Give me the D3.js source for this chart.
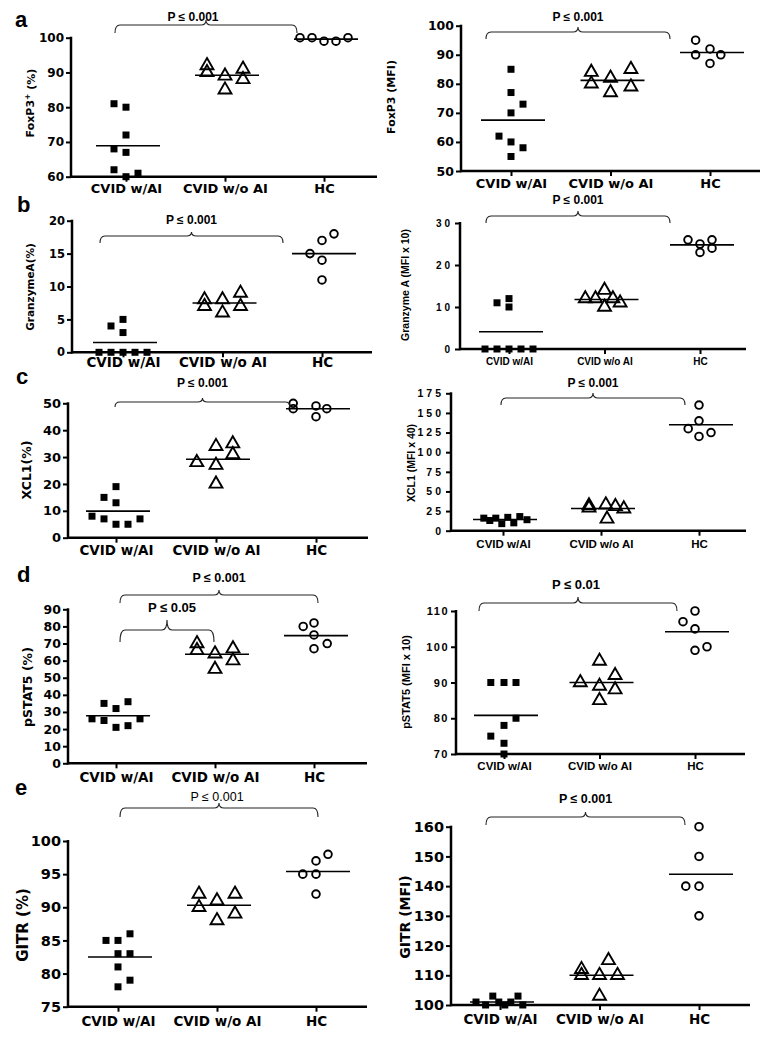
<!DOCTYPE html>
<html>
<head>
<meta charset="utf-8">
<script src="https://cdn.jsdelivr.net/npm/d3@7.9.0/dist/d3.min.js"></script>
<style>
  body { margin: 0; background: #fff; }
  svg { display: block; }
</style>
</head>
<body>
<svg id="fig" width="766" height="1044"></svg>
<script>
const groups = ['CVID w/AI', 'CVID w/o AI', 'HC'];

// a: FoxP3
const foxp3PctTicks = [60, 70, 80, 90, 100];
const foxp3Pct = [[81, 80, 72, 68, 67, 62, 60, 61], [92, 90, 89, 85, 91, 88], [100, 100, 99, 99, 100]];
const foxp3PctSlot = [[-1, 0, 0, -1, 0, -1, 0, 1], [-1.5, -1.5, 0, 0, 1.5, 1.5], [-2, -1, 0, 1, 2]];
const foxp3PctMean = [68.9, 89.2, 99.6];

const foxp3MfiTicks = [50, 60, 70, 80, 90, 100];
const foxp3Mfi = [[85, 77, 73, 70, 62, 60, 58, 55], [84, 80, 82, 77, 85, 79], [95, 92, 90, 90, 87]];
const foxp3MfiSlot = [[0, 0, 1, 0, -1, 0, 1, 0], [-1.6, -1.6, 0, 0, 1.7, 1.7], [-1.2, 0, -1.2, 0.9, 0]];
const foxp3MfiMean = [67.5, 81.2, 90.8];

// b: Granzyme A
const gzmPctTicks = [0, 5, 10, 15, 20];
const gzmPct = [[0, 0, 0, 0, 0, 4, 5, 3], [8, 7, 8, 6, 9, 7], [15, 17, 18, 14, 11]];
const gzmPctSlot = [[-2, -1, 0, 1, 2, -1, 0, 0], [-1.5, -1.5, 0, 0, 1.5, 1.5], [-1, 0, 1, 0, 0]];
const gzmPctMean = [1.5, 7.5, 15];

const gzmMfiTicks = [0, 10, 20, 30];
const gzmMfi = [[0, 0, 0, 0, 0, 11, 12, 10], [12, 12, 14, 10, 12, 11], [26, 26, 25, 23, 24]];
const gzmMfiSlot = [[-2, -1, 0, 1, 2, -1, 0, 0], [-1.6, -0.75, 0, 0, 0.7, 1.3], [-1, 1, 0, 0, 1]];
const gzmMfiMean = [4.1, 11.8, 24.8];

// c: XCL1
const xclPctTicks = [0, 10, 20, 30, 40, 50];
const xclPct = [[8, 7, 5, 5, 7, 15, 13, 19], [28, 34, 27, 20, 35, 31], [50, 48, 49, 45, 48]];
const xclPctSlot = [[-2, -1, 0, 1, 2, -1, 0, 0], [-1.6, 0, 0, 0, 1.4, 1.4], [-1.9, -1.9, 0, 0, 0.9]];
const xclPctMean = [9.9, 29.2, 48];

const xclMfiTicks = [0, 25, 50, 75, 100, 125, 150, 175];
const xclMfi = [[16, 13, 16, 9, 17, 10, 18, 14], [32, 29, 33, 31, 28, 15], [160, 140, 130, 125, 120]];
const xclMfiSlot = [[-1.6, -1.1, -0.6, -0.1, 0.4, 0.9, 1.4, 2], [-1, -1, 0.4, 1.2, 1.9, 0.5], [0, 0, -0.9, 1, 0]];
const xclMfiMean = [14.3, 28.3, 135];

// d: pSTAT5
const pstPctTicks = [0, 10, 20, 30, 40, 50, 60, 70, 80, 90];
const pstPct = [[26, 35, 25, 32, 21, 36, 22, 26], [70, 66, 64, 55, 67, 60], [80, 82, 75, 67, 70]];
const pstPctSlot = [[-2, -1, -1, 0, 0, 1, 1, 2], [-1.5, -1.5, 0, 0, 1.5, 1.5], [-0.9, 0, 0, 0, 1.1]];
const pstPctMean = [27.8, 63.7, 74.6];

const pstMfiTicks = [70, 80, 90, 100, 110];
const pstMfi = [[90, 90, 90, 80, 78, 75, 73, 70], [90, 96, 89, 85, 92, 88], [107, 110, 105, 99, 100]];
const pstMfiSlot = [[-1.1, 0, 1, 1, 0, -1.1, 0, 0], [-1.6, 0, 0, 0, 1.3, 1.3], [-1, 0, 0, 0, 1]];
const pstMfiMean = [80.8, 90, 104.2];

// e: GITR
const gitrPctTicks = [75, 80, 85, 90, 95, 100];
const gitrPct = [[85, 85, 86, 83, 83, 81, 79, 78], [92, 90, 91, 88, 92, 89], [95, 95, 97, 98, 92]];
const gitrPctSlot = [[-1, 0, 1, 0, 1, 0, 1, 0], [-1.5, -1.5, 0, 0, 1.5, 1.5], [-1.1, 0, 0, 1, 0]];
const gitrPctMean = [82.5, 90.3, 95.4];

const gitrMfiTicks = [100, 110, 120, 130, 140, 150, 160];
const gitrMfi = [[101, 100, 103, 101, 100, 101, 103, 100], [112, 110, 110, 103, 115, 110], [160, 150, 140, 140, 130]];
const gitrMfiSlot = [[-2, -1.2, -0.6, -0.1, 0.4, 0.9, 1.5, 1.9], [-1.5, -1.5, 0, 0, 0.75, 1.5], [0, 0, -1.1, 0, 0]];
const gitrMfiMean = [101, 110, 144];

const WIDE = '"DejaVu Sans", Verdana, sans-serif';
const ARIAL = '"Liberation Sans", Arial, sans-serif';

const panels = [
  { letter: 'a', lx: 15, ly: 27, x0: 71, x1: 377, cRange: [126, 324], yRange: [176.7, 37.7], domain: [60, 100],
    ticks: foxp3PctTicks, values: foxp3Pct, slots: foxp3PctSlot, means: foxp3PctMean,
    tick: [WIDE, 12, 0], cat: [WIDE, 13], catY: 193,
    ylab: ['FoxP3', '+', ' (%)'], ylx: 30, yly: 103, ylf: [WIDE, 11],
    brackets: [{ g: [0, 2], dx: [-11, -27], y: 25, drop: 8, tip: 5, ty: 21, tdx: -13, size: 12, text: 'P ≤ 0.001' }] },
  { x0: 461, x1: 760, cRange: [511, 710], yRange: [171, 25.7], domain: [50, 100],
    ticks: foxp3MfiTicks, values: foxp3Mfi, slots: foxp3MfiSlot, means: foxp3MfiMean,
    tick: [WIDE, 12.5, 0], cat: [WIDE, 13], catY: 188,
    ylab: ['FoxP3 (MFI)'], ylx: 391, yly: 97, ylf: [WIDE, 11],
    brackets: [{ g: [0, 2], dx: [-25, -40], y: 32, drop: 7, tip: 5, ty: 21, tdx: 0, size: 12, text: 'P ≤ 0.001' }] },
  { letter: 'b', lx: 17, ly: 212, x0: 72, x1: 372, cRange: [123, 322], yRange: [352.3, 220.7], domain: [0, 20],
    ticks: gzmPctTicks, values: gzmPct, slots: gzmPctSlot, means: gzmPctMean,
    tick: [WIDE, 11.5, 0], cat: [WIDE, 13.5], catY: 367,
    ylab: ['GranzymeA(%)'], ylx: 30, yly: 287, ylf: [WIDE, 10.5],
    brackets: [{ g: [0, 2], dx: [-23, -39], y: 236, drop: 7, tip: 4, ty: 224, tdx: 0, size: 12, text: 'P ≤ 0.001' }] },
  { x0: 460, x1: 746, cRange: [509, 700], yRange: [349, 223], domain: [0, 30],
    ticks: gzmMfiTicks, values: gzmMfi, slots: gzmMfiSlot, means: gzmMfiMean,
    tick: [ARIAL, 10, 3], cat: [ARIAL, 10], catY: 365,
    ylab: ['Granzyme A (MFI x 10)'], ylx: 405, yly: 285, ylf: [ARIAL, 10.5],
    brackets: [{ g: [0, 2], dx: [-23, -30], y: 216, drop: 7, tip: 5, ty: 204, tdx: 0, size: 12, text: 'P ≤ 0.001' }] },
  { letter: 'c', lx: 16, ly: 384, x0: 68, x1: 368, cRange: [116, 316], yRange: [537.7, 403.3], domain: [0, 50],
    ticks: xclPctTicks, values: xclPct, slots: xclPctSlot, means: xclPctMean,
    tick: [WIDE, 13, 0], cat: [WIDE, 13.5], catY: 555,
    ylab: ['XCL1(%)'], ylx: 27, yly: 470, ylf: [WIDE, 12.5],
    brackets: [{ g: [0, 2], dx: [-1, -26], y: 402, drop: 5, tip: 4, ty: 387, tdx: 0, size: 12, text: 'P ≤ 0.001' }] },
  { x0: 451, x1: 746, cRange: [503, 699], yRange: [530.7, 393.3], domain: [0, 175],
    ticks: xclMfiTicks, values: xclMfi, slots: xclMfiSlot, means: xclMfiMean,
    tick: [ARIAL, 10.5, 3], cat: [ARIAL, 11.5], catY: 548,
    ylab: ['XCL1 (MFI x 40)'], ylx: 411, yly: 463, ylf: [ARIAL, 10.5],
    brackets: [{ g: [0, 2], dx: [-2, -14], y: 398, drop: 7, tip: 5, ty: 387, tdx: 0, size: 12, text: 'P ≤ 0.001' }] },
  { letter: 'd', lx: 17, ly: 582, x0: 68, x1: 367, cRange: [116, 314], yRange: [763.3, 609.3], domain: [0, 90],
    ticks: pstPctTicks, values: pstPct, slots: pstPctSlot, means: pstPctMean,
    tick: [WIDE, 12.5, 0], cat: [WIDE, 13.5], catY: 782,
    ylab: ['pSTAT5 (%)'], ylx: 28, yly: 687, ylf: [WIDE, 12.5],
    brackets: [
      { g: [0, 2], dx: [4, 4], y: 595, drop: 8, tip: 5, ty: 582, tdx: 0, size: 12.5, text: 'P ≤ 0.001' },
      { g: [0, 1], dx: [4, -1], y: 630, drop: 12, tip: 10, ty: 612, tdx: 5, size: 13, text: 'P ≤ 0.05' }] },
  { x0: 456, x1: 745, cRange: [504, 695], yRange: [754, 611], domain: [70, 110],
    ticks: pstMfiTicks, values: pstMfi, slots: pstMfiSlot, means: pstMfiMean,
    tick: [ARIAL, 11, 1.5], cat: [ARIAL, 11.5], catY: 770,
    ylab: ['pSTAT5 (MFI x 10)'], ylx: 406, yly: 682, ylf: [ARIAL, 11],
    brackets: [{ g: [0, 2], dx: [-25, -18], y: 603, drop: 8, tip: 6, ty: 589, tdx: -2, size: 13, text: 'P ≤ 0.01' }] },
  { letter: 'e', lx: 15, ly: 795, x0: 68, x1: 367, cRange: [118, 316], yRange: [1006.7, 841], domain: [75, 100],
    ticks: gitrPctTicks, values: gitrPct, slots: gitrPctSlot, means: gitrPctMean,
    tick: [WIDE, 14.5, 0], cat: [WIDE, 13.5], catY: 1026,
    ylab: ['GITR (%)'], ylx: 23, yly: 925, ylf: [WIDE, 15],
    brackets: [{ g: [0, 2], dx: [2, 2], y: 808, drop: 9, tip: 5, ty: 801, tdx: -2, size: 12.5, text: 'P ≤ 0.001', weight: 'normal' }] },
  { x0: 451, x1: 750, cRange: [500, 699], yRange: [1005, 826.7], domain: [100, 160],
    ticks: gitrMfiTicks, values: gitrMfi, slots: gitrMfiSlot, means: gitrMfiMean,
    tick: [WIDE, 14.5, 0], cat: [WIDE, 13.5], catY: 1024,
    ylab: ['GITR (MFI)'], ylx: 405, yly: 917, ylf: [WIDE, 14],
    brackets: [{ g: [0, 2], dx: [-14, -14], y: 817, drop: 8, tip: 5, ty: 803, tdx: 0, size: 12.5, text: 'P ≤ 0.001' }] }
];

const svg = d3.select('#fig');
svg.append('rect').attr('width', 766).attr('height', 1044).attr('fill', '#fff');

const SLOT = 12;
const shapes = [d3.symbol().type(d3.symbolSquare).size(49),
                d3.symbol().type(d3.symbolTriangle).size(72),
                d3.symbol().type(d3.symbolCircle).size(46)];

// curly bracket between two x positions
function brace(g, xa, xb, yl, drop, tip) {
  const xm = (xa + xb) / 2, r = 5;
  const p = d3.path();
  p.moveTo(xa, yl + drop);
  p.quadraticCurveTo(xa, yl, xa + r, yl);
  p.lineTo(xm - r, yl);
  p.quadraticCurveTo(xm, yl, xm, yl - tip);
  p.quadraticCurveTo(xm, yl, xm + r, yl);
  p.lineTo(xb - r, yl);
  p.quadraticCurveTo(xb, yl, xb, yl + drop);
  g.append('path').attr('d', p.toString())
    .attr('fill', 'none').attr('stroke', '#222').attr('stroke-width', 1.1);
  return xm;
}

panels.forEach(p => {
  const g = svg.append('g');
  const x = d3.scalePoint().domain(groups).range(p.cRange);
  const y = d3.scaleLinear().domain(p.domain).range(p.yRange);
  const yBot = p.yRange[0];

  // y axis
  const ya = g.append('g').attr('transform', `translate(${p.x0},0)`)
    .call(d3.axisLeft(y).tickValues(p.ticks).tickSize(5).tickPadding(2).tickSizeOuter(0));
  ya.select('.domain').remove();
  ya.selectAll('.tick line').attr('stroke', '#000').attr('stroke-width', 2);
  ya.selectAll('.tick text')
    .attr('fill', '#000')
    .style('font-family', p.tick[0]).style('font-size', p.tick[1] + 'px')
    .style('font-weight', 'bold').style('letter-spacing', p.tick[2] + 'px');

  // x axis
  const xa = g.append('g').attr('transform', `translate(0,${yBot})`)
    .call(d3.axisBottom(x).tickSize(5).tickSizeOuter(0));
  xa.select('.domain').remove();
  xa.selectAll('.tick line').attr('stroke', '#000').attr('stroke-width', 2);
  xa.selectAll('.tick text')
    .attr('fill', '#000').attr('y', p.catY - yBot).attr('dy', null)
    .style('font-family', p.cat[0]).style('font-size', p.cat[1] + 'px').style('font-weight', 'bold');

  // axis lines
  g.append('line').attr('x1', p.x0).attr('x2', p.x0)
    .attr('y1', y(p.domain[1]) - 1).attr('y2', yBot + 1.2)
    .attr('stroke', '#000').attr('stroke-width', 2.5);
  g.append('line').attr('x1', p.x0).attr('x2', p.x1)
    .attr('y1', yBot).attr('y2', yBot)
    .attr('stroke', '#000').attr('stroke-width', 2.5);

  // y label
  const yl = g.append('text')
    .attr('transform', `translate(${p.ylx},${p.yly}) rotate(-90)`)
    .attr('text-anchor', 'middle').attr('dy', '0.35em')
    .style('font-family', p.ylf[0]).style('font-size', p.ylf[1] + 'px').style('font-weight', 'bold');
  if (p.ylab.length === 3) {
    yl.append('tspan').text(p.ylab[0]);
    yl.append('tspan').attr('dy', '-0.45em').style('font-size', '0.7em').text(p.ylab[1]);
    yl.append('tspan').attr('dy', '0.45em').text(p.ylab[2]);
  } else {
    yl.text(p.ylab[0]);
  }

  // means
  groups.forEach((grp, i) => {
    g.append('line')
      .attr('x1', x(grp) - 30).attr('x2', x(grp) + 34)
      .attr('y1', y(p.means[i])).attr('y2', y(p.means[i]))
      .attr('stroke', '#000').attr('stroke-width', 1.6);
  });

  // points
  groups.forEach((grp, i) => {
    g.append('g').selectAll('path')
      .data(p.values[i].map((v, j) => ({ v, s: p.slots[i][j] })))
      .join('path')
      .attr('d', shapes[i])
      .attr('transform', d => `translate(${x(grp) + d.s * SLOT},${y(d.v)})`)
      .attr('fill', i === 0 ? '#000' : 'none')
      .attr('stroke', i === 0 ? 'none' : '#000')
      .attr('stroke-width', 1.9);
  });

  // brackets
  p.brackets.forEach(b => {
    const xm = brace(g, x(groups[b.g[0]]) + b.dx[0], x(groups[b.g[1]]) + b.dx[1], b.y, b.drop, b.tip);
    g.append('text')
      .attr('x', xm + b.tdx).attr('y', b.ty)
      .attr('text-anchor', 'middle')
      .style('font-family', ARIAL).style('font-size', b.size + 'px')
      .style('font-weight', b.weight || 'bold')
      .text(b.text);
  });

  if (p.letter) {
    g.append('text').attr('x', p.lx).attr('y', p.ly)
      .style('font-family', ARIAL).style('font-size', '22px').style('font-weight', 'bold')
      .text(p.letter);
  }
});
</script>
</body>
</html>
